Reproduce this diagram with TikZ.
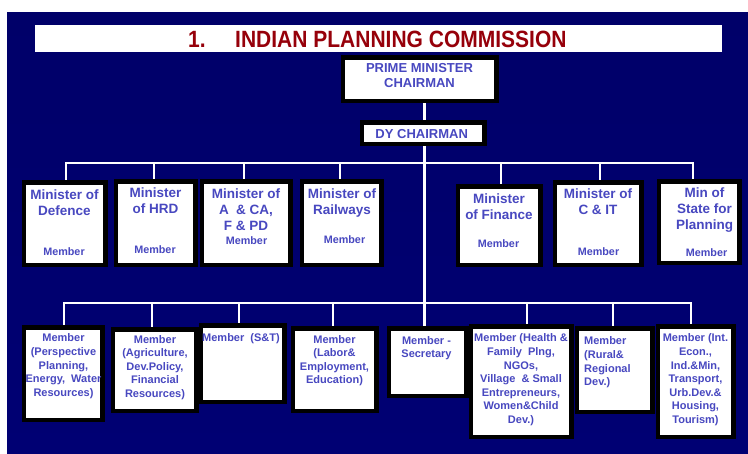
\documentclass[tikz,border=0pt]{standalone}
\usepackage{fontspec}
\setmainfont{Liberation Sans}
\definecolor{orgtext}{RGB}{72,72,192}
\definecolor{titlered}{RGB}{150,0,10}
\definecolor{bgtop}{RGB}{0,0,105}
\definecolor{bgmid}{RGB}{0,0,150}
\definecolor{bgbot}{RGB}{0,0,115}
% box given by its outer corners (x1,y1) and (x2,y2)
\newcommand\orgbox[5]{%
  \node[box, minimum width={#4-#2-3}, minimum height={#5-#3-3}] (#1)
    at ({(#2+#4)/2},{(#3+#5)/2}) {};}
\begin{document}
\begin{tikzpicture}[x=1pt,y=-1pt,
  box/.style={draw=black, fill=white, line width=3pt, inner sep=0pt, rectangle},
  wire/.style={draw=white, line width=2.2pt, line cap=rect},
  head/.style={inner sep=0pt, text=orgtext, align=center,
    font=\fontsize{13.5}{16}\selectfont\bfseries},
  memb/.style={inner sep=0pt, text=orgtext,
    font=\fontsize{10.8}{13}\selectfont\bfseries},
  txt/.style={inner sep=0pt, text=orgtext, align=center,
    font=\fontsize{11}{13.6}\selectfont\bfseries},
]
\useasboundingbox (0,0) rectangle (748,454);
\fill[white] (0,0) rectangle (748,454);
\shade[top color=bgtop, middle color=bgmid, bottom color=bgbot] (7,13) rectangle (748,454);

% title bar
\node[fill=white, inner sep=0pt, minimum width=687, minimum height=27] (bar) at (378.5,38.5) {};
\node[inner sep=0pt, anchor=west, text=titlered, font=\fontsize{21}{24}\selectfont\bfseries]
  (title) at (188,39.7) {\scalebox{1}[1.12]{1.\hspace{29.5pt}INDIAN PLANNING COMMISSION}};

% connector anchors
\coordinate (spine) at (424.5,0);
\coordinate (a1) at (66,163);  \coordinate (a2) at (154,163); \coordinate (a3) at (244,163);
\coordinate (a4) at (340,163); \coordinate (a5) at (501,163); \coordinate (a6) at (600,163);
\coordinate (a7) at (693,163);
\coordinate (c1) at (64,303);  \coordinate (c2) at (152,303); \coordinate (c3) at (239,303);
\coordinate (c4) at (333,303); \coordinate (c6) at (527,303); \coordinate (c7) at (613,303);
\coordinate (c8) at (691,303);

% boxes: chair and deputy
\orgbox{pm}{342}{57}{497}{102}
\orgbox{dy}{361}{122}{485}{145}
% ministers
\orgbox{def}{23}{182}{106}{266}
\orgbox{hrd}{115}{181}{196}{266}
\orgbox{aca}{201}{181}{291}{266}
\orgbox{rly}{301}{181}{382}{266}
\orgbox{fin}{457}{186}{541}{266}
\orgbox{cit}{554}{182}{642}{266}
\orgbox{mos}{658}{181}{740}{264}
% members
\orgbox{ppl}{23}{327}{103}{421}
\orgbox{agr}{112}{329}{197}{412}
\orgbox{snt}{200}{325}{285}{403}
\orgbox{lab}{292}{328}{377}{412}
\orgbox{sec}{388}{328}{467}{397}
\orgbox{hfw}{470}{326}{572}{438}
\orgbox{rur}{576}{328}{653}{413}
\orgbox{iec}{657}{326}{734}{438}

% connectors
\draw[wire] (pm.south -| spine) -- (dy.north -| spine);
\draw[wire] (dy.south -| spine) -- (sec.north -| spine);
\draw[wire] (a1 |- def.north) -- (a1) -- (a7) -- (a7 |- mos.north);
\draw[wire] (a2) -- (a2 |- hrd.north);
\draw[wire] (a3) -- (a3 |- aca.north);
\draw[wire] (a4) -- (a4 |- rly.north);
\draw[wire] (a5) -- (a5 |- fin.north);
\draw[wire] (a6) -- (a6 |- cit.north);
\draw[wire] (c1 |- ppl.north) -- (c1) -- (c8) -- (c8 |- iec.north);
\draw[wire] (c2) -- (c2 |- agr.north);
\draw[wire] (c3) -- (c3 |- snt.north);
\draw[wire] (c4) -- (c4 |- lab.north);
\draw[wire] (c6) -- (c6 |- hfw.north);
\draw[wire] (c7) -- (c7 |- rur.north);

% redraw box frames over the wire ends
\foreach \b in {pm,dy,def,hrd,aca,rly,fin,cit,mos,ppl,agr,snt,lab,sec,hfw,rur,iec}
  \draw[black, line width=3pt] (\b.north west) rectangle (\b.south east);

% texts
\node[head, anchor=north, font=\fontsize{13}{15}\selectfont\bfseries] (pmT) at (419.5,63.5) {PRIME MINISTER\\CHAIRMAN};
\node[head, font=\fontsize{13}{15}\selectfont\bfseries] (dyT) at (421.7,134) {DY CHAIRMAN};

\node[head, anchor=north] (defT) at (64.5,190) {Minister of\\Defence};
\node[head, anchor=north] (hrdT) at (155.5,188) {Minister\\of HRD};
\node[head, anchor=north] (acaT) at (246,189) {Minister of\\A \ \& CA,\\F \& PD};
\node[head, anchor=north] (rlyT) at (342,189) {Minister of\\Railways};
\node[head, anchor=north] (finT) at (499,194) {Minister\\of Finance};
\node[head, anchor=north] (citT) at (598,189) {Minister of\\C \& IT};
\node[head, anchor=north] (mosT) at (704.5,188) {Min of\\State for\\Planning};

\node[memb] (defM) at (64,251.7) {Member};
\node[memb] (hrdM) at (155,250) {Member};
\node[memb] (acaM) at (246.5,240.7) {Member};
\node[memb] (rlyM) at (344.5,240) {Member};
\node[memb] (finM) at (498.5,244) {Member};
\node[memb] (citM) at (598.5,251.7) {Member};
\node[memb] (mosM) at (706.5,253) {Member};

\node[txt, anchor=north] (pplT) at (63.5,333.8) {Member\\(Perspective\\Planning,\\Energy, \ Water\\Resources)};
\node[txt, anchor=north] (agrT) at (155,335) {Member\\(Agriculture,\\Dev.Policy,\\Financial\\Resources)};
\node[txt, anchor=north] (sntT) at (241,333) {Member \ (S\&T)};
\node[txt, anchor=north] (labT) at (334.5,335) {Member\\(Labor\&\\Employment,\\Education)};
\node[txt, anchor=north, font=\fontsize{11}{12.7}\selectfont\bfseries] (secT) at (426.5,336.8) {Member -\\Secretary};
\node[txt, anchor=north] (hfwT) at (521,333.8) {Member (Health \&\\Family \ Plng,\\NGOs,\\Village \ \& Small\\Entrepreneurs,\\Women\&Child\\Dev.)};
\node[txt, anchor=north west, align=left] (rurT) at (584,336.8) {Member\\(Rural\&\\Regional\\Dev.)};
\node[txt, anchor=north] (iecT) at (695.5,333.8) {Member (Int.\\Econ.,\\Ind.\&Min,\\Transport,\\Urb.Dev.\&\\Housing,\\Tourism)};
\end{tikzpicture}
\end{document}
